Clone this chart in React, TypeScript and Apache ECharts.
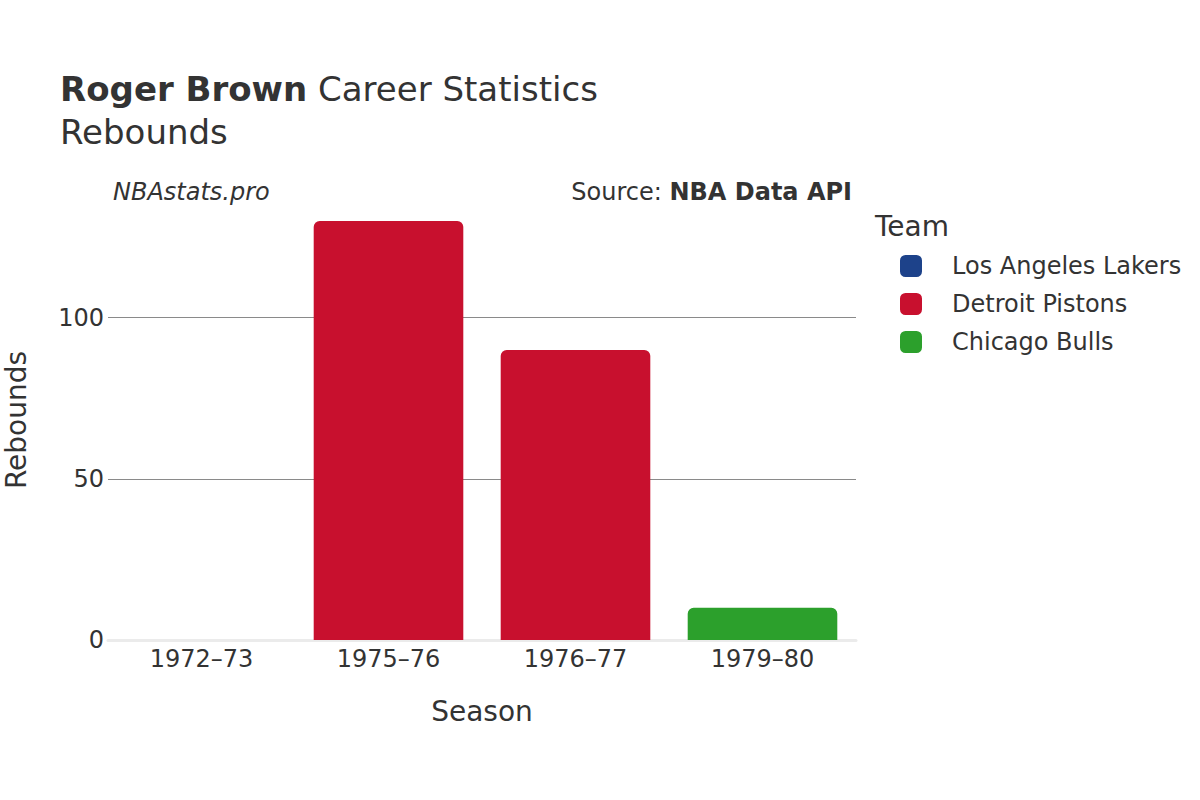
import React, { useEffect, useRef } from "react";
import * as echarts from "echarts";

const seasons = ["1972–73", "1975–76", "1976–77", "1979–80"];
const teams = ["Los Angeles Lakers", "Detroit Pistons", "Chicago Bulls"];
const teamColors = ["#1d428a", "#c8102e", "#2ca02c"];
const lakersRebounds = [0, null, null, null];
const pistonsRebounds = [null, 130, 90, null];
const bullsRebounds = [null, null, null, 10];
const yTicks = [0, 50, 100];

const FONT = "DejaVu Sans, sans-serif";
const TEXT = "#333333";

export default function App() {
  const ref = useRef<HTMLDivElement>(null);
  useEffect(() => {
    if (!ref.current) return;
    const chart = echarts.init(ref.current, undefined, { renderer: "svg" });
    const seriesData = [lakersRebounds, pistonsRebounds, bullsRebounds];
    chart.setOption({
      animation: false,
      backgroundColor: "#ffffff",
      textStyle: { fontFamily: FONT, color: TEXT },
      grid: { left: 108, right: 344, top: 200, bottom: 160, containLabel: false, outerBoundsMode: "none" },
      xAxis: {
        type: "category",
        data: seasons,
        name: "Season",
        nameLocation: "middle",
        nameGap: 57,
        nameTextStyle: { fontSize: 28, color: TEXT, fontFamily: FONT },
        axisLine: { show: true, lineStyle: { color: "#ebebeb", width: 3 } },
        axisTick: { show: false },
        axisLabel: { fontSize: 24, color: TEXT, margin: 7, fontFamily: FONT },
      },
      yAxis: {
        type: "value",
        min: yTicks[0],
        max: 136.5,
        interval: yTicks[1] - yTicks[0],
        name: "Rebounds",
        nameLocation: "middle",
        nameGap: 78,
        nameRotate: 90,
        nameTextStyle: { fontSize: 28, color: TEXT, fontFamily: FONT },
        axisLine: { show: false },
        axisTick: { show: false },
        axisLabel: { fontSize: 24, color: TEXT, margin: 4, showMaxLabel: false, fontFamily: FONT },
        splitLine: { show: true, showMinLine: false, showMaxLine: false, lineStyle: { color: "#8a8a8a", width: 1 } },
      },
      legend: {
        orient: "vertical",
        left: 895,
        top: 249,
        itemWidth: 22,
        itemHeight: 22,
        itemGap: 14,
        icon: "roundRect",
        data: teams,
        textStyle: { fontSize: 24, color: TEXT, fontFamily: FONT, padding: [0, 0, 0, 25] },
      },
      series: teams.map((t, i) => ({
        name: t,
        type: "bar",
        stack: "all",
        barWidth: "80%",
        data: seriesData[i],
        itemStyle: { color: teamColors[i], borderRadius: [6, 6, 0, 0] },
      })),
      graphic: [
        {
          type: "text",
          left: 60,
          top: 72,
          style: {
            text: "{b|Roger Brown}{n| Career Statistics}",
            rich: {
              b: { fontSize: 34, fontWeight: "bold", fill: TEXT, fontFamily: FONT },
              n: { fontSize: 34, fill: TEXT, fontFamily: FONT },
            },
          },
        },
        {
          type: "text",
          left: 60,
          top: 115,
          style: { text: "Rebounds", fontSize: 34, fill: TEXT, fontFamily: FONT },
        },
        {
          type: "text",
          left: 113,
          top: 180,
          style: { text: "NBAstats.pro", fontSize: 24, fontStyle: "italic", fill: TEXT, fontFamily: FONT },
        },
        {
          type: "text",
          right: 348,
          top: 180,
          style: {
            text: "{n|Source: }{b|NBA Data API}",
            rich: {
              n: { fontSize: 24, fill: TEXT, fontFamily: FONT },
              b: { fontSize: 24, fontWeight: "bold", fill: TEXT, fontFamily: FONT },
            },
          },
        },
        {
          type: "text",
          left: 875,
          top: 212,
          style: { text: "Team", fontSize: 28, fill: TEXT, fontFamily: FONT },
        },
      ],
    });
    return () => chart.dispose();
  }, []);
  return (
    <div
      ref={ref}
      style={{ position: "absolute", left: 0, top: 0, width: 1200, height: 800 }}
    />
  );
}
